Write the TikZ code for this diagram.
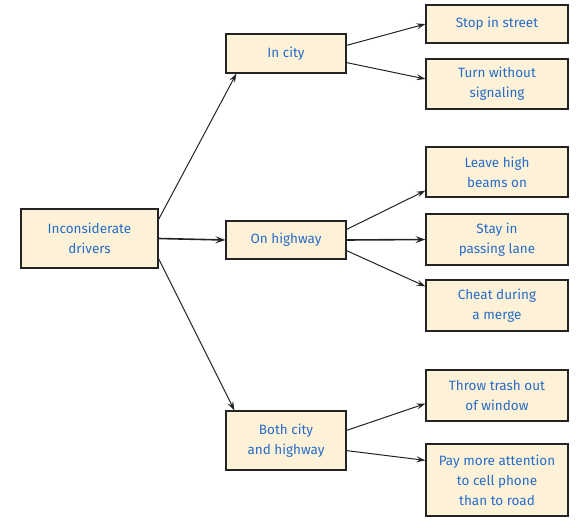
\documentclass[tikz,border=0pt]{standalone}
\usepackage{fontspec}
\setmainfont{Fira Sans}
\usetikzlibrary{arrows.meta,calc}
\definecolor{boxfill}{RGB}{253,242,216}
\definecolor{txtblue}{RGB}{38,108,200}
\definecolor{edge}{RGB}{35,35,35}
\begin{document}
\begin{tikzpicture}[x=1pt,y=-1pt,
  box/.style={draw=edge,line width=1.2pt,fill=boxfill,text=txtblue,align=center,
    inner sep=0pt,font=\fontsize{13.5}{20}\selectfont},
  conn/.style={draw=edge,line width=1pt,-{Stealth[length=9pt,width=6pt,inset=3.5pt]}},
  thick conn/.style={draw=edge,line width=1.6pt,-{Stealth[length=10pt,width=7pt,inset=4pt]}}]
\useasboundingbox (0,0) rectangle (580,527);
\node[box,minimum width=137pt,minimum height=59pt] (root) at (89.5,238.5) {Inconsiderate\\drivers};
\node[box,minimum width=120pt,minimum height=39pt] (city) at (286,53.5) {In city};
\node[box,minimum width=120pt,minimum height=38pt] (hwy) at (286,240) {On highway};
\node[box,minimum width=120pt,minimum height=59pt] (both) at (286,440.5) {Both city\\and highway};
\node[box,minimum width=142pt,minimum height=38pt] (stop) at (497,24) {Stop in street};
\node[box,minimum width=142pt,minimum height=50pt] (turn) at (497,84) {Turn without\\signaling};
\node[box,minimum width=142pt,minimum height=50pt] (leave) at (497,172) {Leave high\\beams on};
\node[box,minimum width=142pt,minimum height=51pt] (stay) at (497,239.5) {Stay in\\passing lane};
\node[box,minimum width=142pt,minimum height=51pt] (cheat) at (497,305.5) {Cheat during\\a merge};
\node[box,minimum width=142pt,minimum height=51pt] (trash) at (497,395.5) {Throw trash out\\of window};
\node[box,minimum width=142pt,minimum height=72pt] (pay) at (497,480) {Pay more attention\\to cell phone\\than to road};
\draw[conn] ($(root.north east)+(0,11)$) -- ($(city.south west)+(11,0)$);
\draw[thick conn] (root.east) -- (hwy.west);
\draw[conn] ($(root.south east)+(0,-10)$) -- ($(both.north west)+(9,0)$);
\draw[conn] ($(city.north east)+(0,12)$) -- (stop.west);
\draw[conn] ($(city.south east)+(0,-11)$) -- ($(turn.west)+(0,-5)$);
\draw[conn] ($(hwy.north east)+(0,9)$) -- ($(leave.south west)+(0,-7)$);
\draw[thick conn] (hwy.east) -- (stay.west);
\draw[conn] ($(hwy.south east)+(0,-9)$) -- ($(cheat.north west)+(0,7)$);
\draw[conn] ($(both.north east)+(0,20)$) -- ($(trash.south west)+(0,-18)$);
\draw[conn] ($(both.south east)+(0,-20)$) -- ($(pay.north west)+(0,17)$);
\end{tikzpicture}
\end{document}
